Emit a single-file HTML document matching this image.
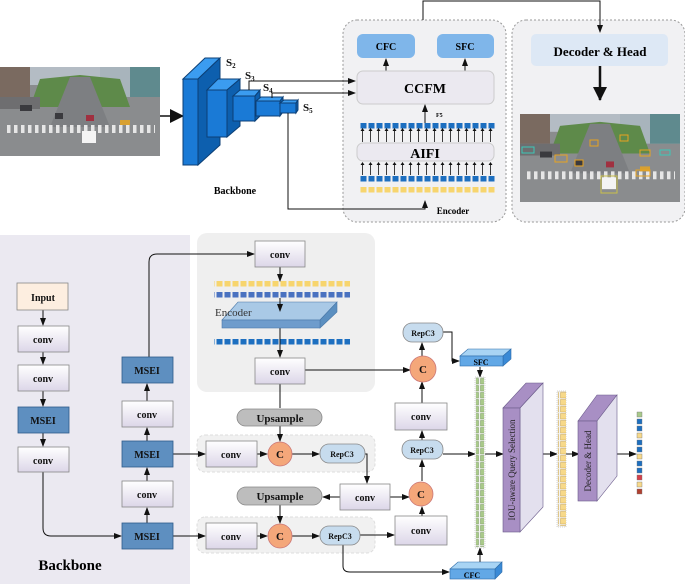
<!DOCTYPE html>
<html><head><meta charset="utf-8"><style>
html,body{margin:0;padding:0;background:#fff}
svg{display:block;font-family:"Liberation Serif",serif}
.b{font-weight:bold}
</style></head><body>
<svg width="685" height="584" viewBox="0 0 685 584" xmlns="http://www.w3.org/2000/svg">
<defs>
<marker id="a" markerWidth="8" markerHeight="8" refX="7" refY="4" orient="auto" markerUnits="userSpaceOnUse"><path d="M0,1 L8,4 L0,7z" fill="#111"/></marker>
<marker id="a2" markerWidth="14" markerHeight="14" refX="13" refY="7" orient="auto" markerUnits="userSpaceOnUse"><path d="M0,0 L14,7 L0,14z" fill="#111"/></marker>
<pattern id="pb" width="8" height="1" patternUnits="userSpaceOnUse"><rect x="0.5" y="0" width="6" height="1" fill="#1d6fc0"/></pattern>
<pattern id="pb2" width="8" height="1" patternUnits="userSpaceOnUse"><rect x="0.5" y="0" width="6" height="1" fill="#4a72c0"/></pattern>
<pattern id="py" width="8" height="1" patternUnits="userSpaceOnUse"><rect x="0.5" y="0" width="6" height="1" fill="#f7d56e"/></pattern>
<pattern id="pg" width="8" height="7" patternUnits="userSpaceOnUse"><rect x="0.5" y="0.5" width="6" height="5.5" fill="#a9c98a" stroke="#7a9a60" stroke-width=".5"/></pattern>
<pattern id="pyv" width="8" height="7" patternUnits="userSpaceOnUse"><rect x="0.5" y="0.5" width="6" height="5.5" fill="#f7d98a" stroke="#c9a650" stroke-width=".5"/></pattern>
<pattern id="cw" width="7" height="10" patternUnits="userSpaceOnUse"><rect x="0" y="0" width="3.5" height="10" fill="#e6e6e6"/></pattern>
<linearGradient id="cv" x1="0" y1="0" x2="0" y2="1"><stop offset="0" stop-color="#fff"/><stop offset="1" stop-color="#dcd6e8"/></linearGradient>
<symbol id="photo" viewBox="0 0 160 89" preserveAspectRatio="none">
<rect width="160" height="89" fill="#8a8c8e"/>
<rect width="160" height="18" fill="#b4bcc4"/>
<rect x="0" y="0" width="30" height="30" fill="#7a6a60"/>
<rect x="100" y="0" width="60" height="30" fill="#a8b4bc"/>
<rect x="130" y="0" width="30" height="30" fill="#5f8a8e"/>
<path d="M40,12 L80,8 L120,12 L130,40 L30,40z" fill="#5e8a4a"/>
<path d="M70,10 L90,10 L110,60 L50,60z" fill="#7d7f82"/>
<rect x="0" y="30" width="40" height="12" fill="#6e6e70"/>
<rect x="5" y="58" width="150" height="8" fill="url(#cw)"/>
<rect x="82" y="64" width="14" height="12" fill="#f4f4f4"/>
<rect x="120" y="53" width="10" height="5" fill="#d8a030"/>
<rect x="86" y="48" width="8" height="6" fill="#a03040"/>
<rect x="20" y="38" width="12" height="6" fill="#3a3a3e"/>
<rect x="55" y="46" width="8" height="6" fill="#3a3a3e"/>
</symbol>
</defs>

<!-- TOP -->
<use href="#photo" x="0" y="67" width="160" height="89"/>
<line x1="160" y1="116" x2="183" y2="116" stroke="#111" stroke-width="1.5" marker-end="url(#a2)"/>

<g stroke="#0c3f75" stroke-width="1">
<polygon points="183,79 205,58 220,58 198,79" fill="#3b9cf0"/><polygon points="198,79 220,58 220,145 198,165" fill="#0d5fae"/><rect x="183" y="79" width="15" height="86" fill="#1a7ad6"/>
<polygon points="207,90 218,79 240,79 227,90" fill="#3b9cf0"/><polygon points="227,90 240,79 240,126 227,137" fill="#0d5fae"/><rect x="207" y="90" width="20" height="47" fill="#1a7ad6"/>
<polygon points="233,96 240,90 260,90 255,96" fill="#3b9cf0"/><polygon points="255,96 260,90 260,116 255,121" fill="#0d5fae"/><rect x="233" y="96" width="22" height="25" fill="#1a7ad6"/>
<polygon points="256,101 261,97 283,97 280,101" fill="#3b9cf0"/><polygon points="280,101 283,97 283,112 280,116" fill="#0d5fae"/><rect x="256" y="101" width="24" height="15" fill="#1a7ad6"/>
<polygon points="280,103 284,100 298,100 296,103" fill="#3b9cf0"/><polygon points="296,103 298,100 298,110 296,113" fill="#0d5fae"/><rect x="280" y="103" width="16" height="10" fill="#1a7ad6"/>
</g>
<g class="b" font-size="11" fill="#111"><text x="226" y="66">S<tspan font-size="7" dy="2">2</tspan></text><text x="245" y="79">S<tspan font-size="7" dy="2">3</tspan></text><text x="263" y="91">S<tspan font-size="7" dy="2">4</tspan></text><text x="303" y="111">S<tspan font-size="7" dy="2">5</tspan></text></g>
<text x="235" y="194" class="b" font-size="10" text-anchor="middle">Backbone</text>

<rect x="343" y="20" width="163" height="202" rx="14" fill="#f1f1f3" stroke="#999" stroke-dasharray="2,2"/>
<rect x="512" y="20" width="173" height="202" rx="14" fill="#f1f1f3" stroke="#999" stroke-dasharray="2,2"/>
<use href="#photo" x="520" y="114" width="160" height="88"/>
<g fill="none" stroke="#e8a320" stroke-width="1"><rect x="575" y="160" width="8" height="6"/><rect x="636" y="170" width="14" height="6"/><rect x="555" y="155" width="12" height="7"/><rect x="640" y="150" width="10" height="6"/><rect x="590" y="140" width="8" height="6"/><rect x="620" y="135" width="8" height="6"/><rect x="601" y="176" width="16" height="17" stroke="#c9c04a"/></g>
<g fill="none" stroke="#3cc8b8" stroke-width="1"><rect x="522" y="147" width="12" height="6"/><rect x="660" y="150" width="10" height="5"/></g>

<polyline points="249,90 249,81 355,81" fill="none" stroke="#111" marker-end="url(#a)"/>
<polyline points="272,98 272,93 355,93" fill="none" stroke="#111" marker-end="url(#a)"/>
<polyline points="288,113 288,209 425,209 425,201" fill="none" stroke="#111" marker-end="url(#a)"/>
<polyline points="423,20 423,1 600,1 600,32" fill="none" stroke="#111" marker-end="url(#a)"/>

<rect x="357" y="34" width="58" height="24" rx="6" fill="#7fb6ea"/><text x="386" y="50" class="b" font-size="10" text-anchor="middle">CFC</text>
<rect x="437" y="34" width="57" height="24" rx="6" fill="#7fb6ea"/><text x="465" y="50" class="b" font-size="10" text-anchor="middle">SFC</text>
<line x1="386" y1="71" x2="386" y2="59" stroke="#111" marker-end="url(#a)"/><line x1="465" y1="71" x2="465" y2="59" stroke="#111" marker-end="url(#a)"/>
<rect x="357" y="71" width="137" height="33" rx="6" fill="#ebe9f0" stroke="#ccc"/><text x="425" y="93" class="b" font-size="14" text-anchor="middle">CCFM</text>
<line x1="425" y1="123" x2="425" y2="105" stroke="#111" marker-end="url(#a)"/>
<text x="436" y="117" class="b" font-size="6">F5</text>
<rect x="359" y="123" width="136" height="5.5" fill="url(#pb)"/>
<rect x="357" y="143" width="137" height="18" rx="6" fill="#ebe9f0" stroke="#ccc"/><text x="425" y="158" class="b" font-size="14" text-anchor="middle">AIFI</text>
<g stroke="#111" stroke-width=".8">
<path d="M362.5,142V131M370.5,142V131M378.5,142V131M386.5,142V131M394.5,142V131M402.5,142V131M410.5,142V131M418.5,142V131M426.5,142V131M434.5,142V131M442.5,142V131M450.5,142V131M458.5,142V131M466.5,142V131M474.5,142V131M482.5,142V131M490.5,142V131"/>
<path d="M362.5,175V165M370.5,175V165M378.5,175V165M386.5,175V165M394.5,175V165M402.5,175V165M410.5,175V165M418.5,175V165M426.5,175V165M434.5,175V165M442.5,175V165M450.5,175V165M458.5,175V165M466.5,175V165M474.5,175V165M482.5,175V165M490.5,175V165"/>
</g>
<g fill="#111"><path d="M360.5,131l2,-3l2,3zM368.5,131l2,-3l2,3zM376.5,131l2,-3l2,3zM384.5,131l2,-3l2,3zM392.5,131l2,-3l2,3zM400.5,131l2,-3l2,3zM408.5,131l2,-3l2,3zM416.5,131l2,-3l2,3zM424.5,131l2,-3l2,3zM432.5,131l2,-3l2,3zM440.5,131l2,-3l2,3zM448.5,131l2,-3l2,3zM456.5,131l2,-3l2,3zM464.5,131l2,-3l2,3zM472.5,131l2,-3l2,3zM480.5,131l2,-3l2,3zM488.5,131l2,-3l2,3z"/>
<path d="M360.5,165l2,-3l2,3zM368.5,165l2,-3l2,3zM376.5,165l2,-3l2,3zM384.5,165l2,-3l2,3zM392.5,165l2,-3l2,3zM400.5,165l2,-3l2,3zM408.5,165l2,-3l2,3zM416.5,165l2,-3l2,3zM424.5,165l2,-3l2,3zM432.5,165l2,-3l2,3zM440.5,165l2,-3l2,3zM448.5,165l2,-3l2,3zM456.5,165l2,-3l2,3zM464.5,165l2,-3l2,3zM472.5,165l2,-3l2,3zM480.5,165l2,-3l2,3zM488.5,165l2,-3l2,3z"/></g>
<rect x="359" y="176" width="136" height="5.5" fill="url(#pb)"/>
<rect x="359" y="187" width="136" height="5.5" fill="url(#py)"/>
<text x="453" y="214" class="b" font-size="9" text-anchor="middle">Encoder</text>

<rect x="531" y="34" width="137" height="32" rx="5" fill="#dde8f5"/><text x="600" y="56" class="b" font-size="13" text-anchor="middle">Decoder &amp; Head</text>
<line x1="600" y1="66" x2="600" y2="100" stroke="#111" stroke-width="2.5" marker-end="url(#a2)"/>

<!-- BOTTOM -->
<rect x="0" y="235" width="190" height="349" fill="#ebe9f1"/>
<rect x="197" y="233" width="178" height="159" rx="10" fill="#efefef"/>
<rect x="197" y="435" width="178" height="37" rx="8" fill="#f1f1f1" stroke="#ddd" stroke-dasharray="3,2"/>
<rect x="197" y="517" width="178" height="36" rx="8" fill="#f1f1f1" stroke="#ddd" stroke-dasharray="3,2"/>

<g stroke="#111" fill="none">
<line x1="43" y1="310" x2="43" y2="325" marker-end="url(#a)"/>
<line x1="43" y1="352" x2="43" y2="364" marker-end="url(#a)"/>
<line x1="43" y1="391" x2="43" y2="406" marker-end="url(#a)"/>
<line x1="43" y1="433" x2="43" y2="446" marker-end="url(#a)"/>
<path d="M43,472V528Q43,536 51,536H121" marker-end="url(#a)"/>
<line x1="147" y1="523" x2="147" y2="508" marker-end="url(#a)"/>
<line x1="147" y1="481" x2="147" y2="468" marker-end="url(#a)"/>
<line x1="147" y1="441" x2="147" y2="428" marker-end="url(#a)"/>
<line x1="147" y1="401" x2="147" y2="384" marker-end="url(#a)"/>
<path d="M149,357V262Q149,254 157,254H254" marker-end="url(#a)"/>
<line x1="173" y1="454" x2="205" y2="454" marker-end="url(#a)"/>
<line x1="173" y1="536" x2="205" y2="536" marker-end="url(#a)"/>
<line x1="280" y1="267" x2="280" y2="281" marker-end="url(#a)"/>
<line x1="280" y1="328" x2="280" y2="357" marker-end="url(#a)"/>
<line x1="280" y1="384" x2="280" y2="408"/>
<line x1="280" y1="426" x2="280" y2="441" marker-end="url(#a)"/>
<line x1="257" y1="454" x2="267" y2="454" marker-end="url(#a)"/>
<line x1="292" y1="454" x2="319" y2="454" marker-end="url(#a)"/>
<path d="M365,454H367V483" marker-end="url(#a)"/>
<line x1="340" y1="497" x2="323" y2="497" marker-end="url(#a)"/>
<line x1="280" y1="505" x2="280" y2="523" marker-end="url(#a)"/>
<line x1="257" y1="536" x2="267" y2="536" marker-end="url(#a)"/>
<line x1="292" y1="536" x2="319" y2="536" marker-end="url(#a)"/>
<line x1="360" y1="535" x2="394" y2="535" marker-end="url(#a)"/>
<path d="M343,545V566Q343,572 350,572H449" marker-end="url(#a)"/>
<line x1="305" y1="370" x2="410" y2="370" marker-end="url(#a)"/>
<line x1="390" y1="497" x2="409" y2="497" marker-end="url(#a)"/>
<line x1="422" y1="516" x2="422" y2="507" marker-end="url(#a)"/>
<line x1="422" y1="481" x2="422" y2="460" marker-end="url(#a)"/>
<line x1="422" y1="440" x2="422" y2="431" marker-end="url(#a)"/>
<line x1="422" y1="403" x2="422" y2="382" marker-end="url(#a)"/>
<line x1="422" y1="357" x2="422" y2="343" marker-end="url(#a)"/>
<path d="M443,332H452V361H459" marker-end="url(#a)"/>
<line x1="480" y1="367" x2="480" y2="377" marker-end="url(#a)"/>
<line x1="480" y1="562" x2="480" y2="548" marker-end="url(#a)"/>
<line x1="443" y1="454" x2="475" y2="454" marker-end="url(#a)"/>
<line x1="485" y1="454" x2="503" y2="454" marker-end="url(#a)"/>
<line x1="540" y1="454" x2="557" y2="454" marker-end="url(#a)"/>
<line x1="566" y1="454" x2="579" y2="454" marker-end="url(#a)"/>
<line x1="617" y1="454" x2="636" y2="454" marker-end="url(#a)"/>
</g>

<g font-size="10" class="b" text-anchor="middle" stroke="#888" stroke-width=".8">
<rect x="17" y="283" width="51" height="27" fill="#fdeee0"/>
<rect x="18" y="326" width="51" height="26" fill="url(#cv)"/>
<rect x="18" y="365" width="51" height="26" fill="url(#cv)"/>
<rect x="18" y="407" width="51" height="26" fill="#5e8fc0" stroke="#2e5b8a"/>
<rect x="18" y="447" width="51" height="25" fill="url(#cv)"/>
<rect x="122" y="357" width="51" height="26" fill="#5e8fc0" stroke="#2e5b8a"/>
<rect x="122" y="401" width="51" height="26" fill="url(#cv)"/>
<rect x="122" y="441" width="51" height="26" fill="#5e8fc0" stroke="#2e5b8a"/>
<rect x="122" y="481" width="51" height="26" fill="url(#cv)"/>
<rect x="122" y="523" width="51" height="26" fill="#5e8fc0" stroke="#2e5b8a"/>
<rect x="255" y="241" width="50" height="26" fill="url(#cv)"/>
<rect x="255" y="358" width="50" height="26" fill="url(#cv)"/>
<rect x="206" y="441" width="51" height="26" fill="url(#cv)"/>
<rect x="206" y="523" width="51" height="26" fill="url(#cv)"/>
<rect x="340" y="484" width="50" height="26" fill="url(#cv)"/>
<rect x="395" y="403" width="52" height="27" fill="url(#cv)"/>
<rect x="395" y="516" width="52" height="29" fill="url(#cv)"/>
<rect x="237" y="409" width="85" height="17" rx="8.5" fill="#bdbdbd"/>
<rect x="237" y="487" width="85" height="18" rx="9" fill="#bdbdbd"/>
<rect x="320" y="444" width="45" height="19" rx="9" fill="#c7dcee"/>
<rect x="320" y="526" width="40" height="19" rx="9" fill="#c7dcee"/>
<rect x="403" y="323" width="40" height="19" rx="9" fill="#c7dcee"/>
<rect x="402" y="440" width="41" height="19" rx="9" fill="#c7dcee"/>
<circle cx="280" cy="454" r="12" fill="#f4a77a" stroke="#c77"/>
<circle cx="280" cy="536" r="12" fill="#f4a77a" stroke="#c77"/>
<circle cx="423" cy="369" r="13" fill="#f4a77a" stroke="#c77"/>
<circle cx="421" cy="494" r="12" fill="#f4a77a" stroke="#c77"/>
</g>
<g font-size="10" class="b" text-anchor="middle" fill="#111">
<text x="43" y="301">Input</text>
<text x="43" y="343">conv</text><text x="43" y="382">conv</text><text x="43" y="424">MSEI</text><text x="43" y="464">conv</text>
<text x="147" y="374">MSEI</text><text x="147" y="418">conv</text><text x="147" y="458">MSEI</text><text x="147" y="498">conv</text><text x="147" y="540">MSEI</text>
<text x="280" y="258">conv</text><text x="280" y="375">conv</text><text x="231" y="458">conv</text><text x="231" y="540">conv</text><text x="365" y="501">conv</text><text x="421" y="420">conv</text><text x="421" y="534">conv</text>
<text x="280" y="422" font-size="11">Upsample</text><text x="280" y="500" font-size="11">Upsample</text>
<text x="280" y="458" font-size="11">C</text><text x="280" y="540" font-size="11">C</text><text x="423" y="373" font-size="11">C</text><text x="421" y="498" font-size="11">C</text>
<g font-size="8"><text x="342" y="457">RepC3</text><text x="340" y="539">RepC3</text><text x="423" y="336">RepC3</text><text x="422" y="453">RepC3</text></g>
</g>

<rect x="214" y="281" width="136" height="5.5" fill="url(#py)"/>
<rect x="214" y="292" width="136" height="5.5" fill="url(#pb2)"/>
<polygon points="222,320 238,302 337,302 320,320" fill="#a9c9e6" stroke="#4a78a8" stroke-width=".6"/>
<polygon points="320,320 337,302 337,312 320,328" fill="#5b8fc0" stroke="#4a78a8" stroke-width=".6"/>
<rect x="222" y="320" width="98" height="8" fill="#6e9ccc" stroke="#4a78a8" stroke-width=".6"/>
<text x="215" y="316" font-size="11" fill="#333">Encoder</text>
<line x1="280" y1="298" x2="280" y2="311" stroke="#111" marker-end="url(#a)"/>
<rect x="214" y="339" width="136" height="5.5" fill="url(#pb)"/>

<polygon points="460,356 468,349 511,349 503,356" fill="#a8d4f4" stroke="#2e6ca8" stroke-width=".6"/>
<polygon points="503,356 511,349 511,359 503,366" fill="#3a8ad6" stroke="#2e6ca8" stroke-width=".6"/>
<rect x="460" y="356" width="43" height="10" fill="#62a8e6" stroke="#2e6ca8" stroke-width=".6"/>
<text x="481" y="365" font-size="8" class="b" text-anchor="middle">SFC</text>
<polygon points="450,569 458,562 502,562 495,569" fill="#a8d4f4" stroke="#2e6ca8" stroke-width=".6"/>
<polygon points="495,569 502,562 502,572 495,579" fill="#3a8ad6" stroke="#2e6ca8" stroke-width=".6"/>
<rect x="450" y="569" width="45" height="10" fill="#62a8e6" stroke="#2e6ca8" stroke-width=".6"/>
<text x="472" y="578" font-size="8" class="b" text-anchor="middle">CFC</text>

<rect x="475" y="377" width="10" height="171" fill="#f4f4f4" stroke="#aaa" stroke-dasharray="1,1" stroke-width=".5"/>
<rect x="476" y="377" width="8" height="170" fill="url(#pg)"/>
<rect x="557" y="391" width="9" height="136" fill="#f4f4f4" stroke="#aaa" stroke-dasharray="1,1" stroke-width=".5"/>
<rect x="558" y="391" width="8" height="135" fill="url(#pyv)"/>

<polygon points="503,408 526,383 543,383 520,408" fill="#a88fc4" stroke="#6a5a8a" stroke-width=".6"/>
<polygon points="520,408 543,383 543,507 520,532" fill="#e3e0ee" stroke="#6a5a8a" stroke-width=".6"/>
<rect x="503" y="408" width="17" height="124" fill="#a88fc4" stroke="#6a5a8a" stroke-width=".6"/>
<text transform="translate(515,470) rotate(-90)" font-size="9" text-anchor="middle" fill="#222">IOU-aware Query Selection</text>
<polygon points="578,421 597,395 617,395 597,421" fill="#a88fc4" stroke="#6a5a8a" stroke-width=".6"/>
<polygon points="597,421 617,395 617,476 597,501" fill="#e3e0ee" stroke="#6a5a8a" stroke-width=".6"/>
<rect x="578" y="421" width="19" height="80" fill="#a88fc4" stroke="#6a5a8a" stroke-width=".6"/>
<text transform="translate(591,461) rotate(-90)" font-size="9" text-anchor="middle" fill="#222">Decoder &amp; Head</text>

<g stroke="#777" stroke-width=".4">
<rect x="637" y="412" width="5" height="5" fill="#a9c98a"/><rect x="637" y="419" width="5" height="5" fill="#1d6fc0"/><rect x="637" y="426" width="5" height="5" fill="#1d6fc0"/><rect x="637" y="433" width="5" height="5" fill="#f7d98a"/><rect x="637" y="440" width="5" height="5" fill="#1d6fc0"/><rect x="637" y="447" width="5" height="5" fill="#1d6fc0"/><rect x="637" y="454" width="5" height="5" fill="#f7d98a"/><rect x="637" y="461" width="5" height="5" fill="#1d6fc0"/><rect x="637" y="468" width="5" height="5" fill="#1d6fc0"/><rect x="637" y="475" width="5" height="5" fill="#d4404a"/><rect x="637" y="482" width="5" height="5" fill="#f7d98a"/><rect x="637" y="489" width="5" height="5" fill="#b04030"/>
</g>

<text x="70" y="570" class="b" font-size="15" text-anchor="middle">Backbone</text>
</svg>
</body></html>
